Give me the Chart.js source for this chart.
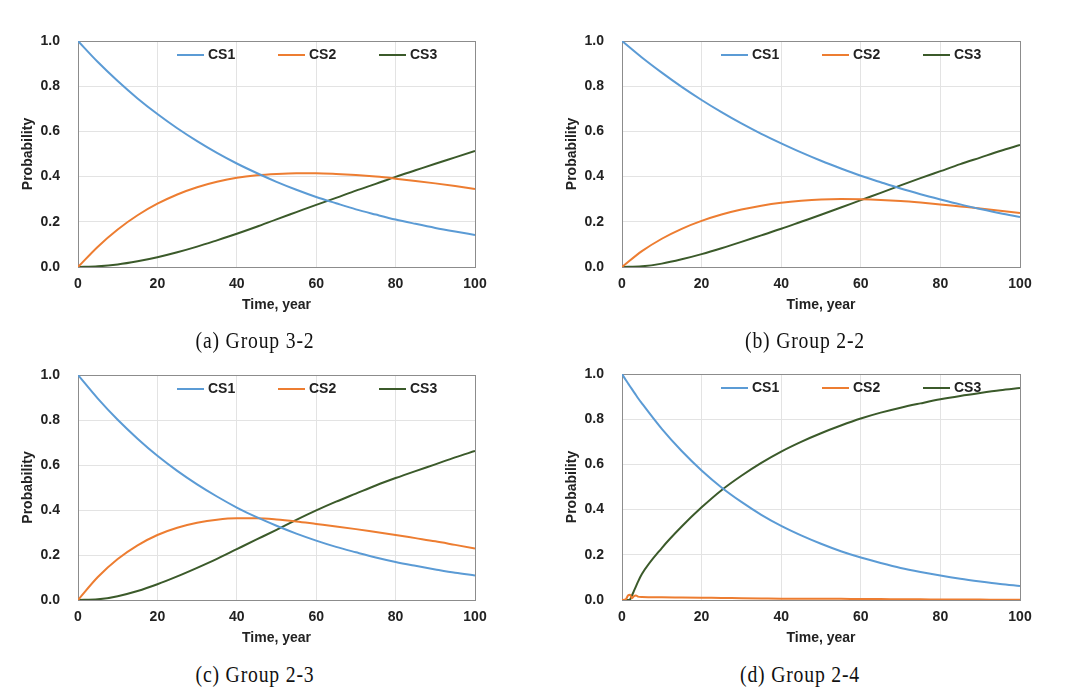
<!DOCTYPE html>
<html>
<head>
<meta charset="utf-8">
<script src="https://cdn.jsdelivr.net/npm/chart.js@4.4.1/dist/chart.umd.min.js"></script>
<style>
body{margin:0;background:#fff;width:1075px;height:698px;overflow:hidden;position:relative;}
canvas{position:absolute;}
.cap{position:absolute;font-family:"Liberation Serif","DejaVu Serif",serif;font-size:24px;color:#111;white-space:nowrap;transform:translate(-50%,-50%) scaleX(0.82);letter-spacing:1px;}
</style>
</head>
<body>
<canvas id="c1"></canvas>
<canvas id="c2"></canvas>
<canvas id="c3"></canvas>
<canvas id="c4"></canvas>
<div class="cap" style="left:255px;top:340px;">(a) Group 3-2</div>
<div class="cap" style="left:805px;top:340px;">(b) Group 2-2</div>
<div class="cap" style="left:255px;top:674px;">(c) Group 2-3</div>
<div class="cap" style="left:800px;top:674px;">(d) Group 2-4</div>
<script>
// time axis, years
var years = [0,5,10,15,20,25,30,35,40,45,50,55,60,65,70,75,80,85,90,95,100];
var yearsD = [0,1,1.5,2,2.5,3,3.5,4,5,10,15,20,25,30,35,40,45,50,55,60,65,70,75,80,85,90,95,100];

var xTicks = [0,20,40,60,80,100];
var yTicks = [0,0.2,0.4,0.6,0.8,1.0];
var seriesNames = ["CS1","CS2","CS3"];

// (a) Group 3-2
var cs1A = [1.000,0.907,0.823,0.746,0.677,0.614,0.557,0.505,0.458,0.416,0.377,0.342,0.310,0.282,0.255,0.232,0.210,0.191,0.173,0.157,0.142];
var cs2A = [0,0.090,0.166,0.229,0.280,0.321,0.353,0.377,0.395,0.406,0.412,0.415,0.415,0.412,0.407,0.400,0.391,0.381,0.370,0.358,0.345];
var cs3A = [0,0.003,0.011,0.025,0.043,0.065,0.090,0.118,0.147,0.178,0.211,0.243,0.275,0.306,0.338,0.368,0.399,0.428,0.457,0.485,0.513];

// (b) Group 2-2
var cs1B = [1.000,0.927,0.860,0.797,0.739,0.685,0.635,0.589,0.547,0.507,0.470,0.436,0.404,0.375,0.347,0.322,0.299,0.277,0.257,0.238,0.221];
var cs2B = [0,0.070,0.125,0.169,0.204,0.232,0.254,0.271,0.284,0.293,0.299,0.301,0.300,0.297,0.292,0.285,0.277,0.268,0.259,0.249,0.239];
var cs3B = [0,0.003,0.015,0.034,0.057,0.083,0.111,0.140,0.169,0.200,0.231,0.263,0.296,0.328,0.361,0.393,0.424,0.455,0.484,0.513,0.540];

// (c) Group 2-3
var cs1C = [1.000,0.895,0.801,0.717,0.641,0.574,0.514,0.460,0.411,0.368,0.330,0.295,0.264,0.236,0.212,0.189,0.169,0.152,0.136,0.121,0.109];
var cs2C = [0,0.102,0.182,0.243,0.289,0.321,0.343,0.357,0.363,0.363,0.358,0.349,0.338,0.327,0.315,0.302,0.289,0.275,0.261,0.245,0.229];
var cs3C = [0,0.003,0.017,0.040,0.070,0.105,0.143,0.183,0.226,0.269,0.312,0.356,0.398,0.437,0.473,0.509,0.542,0.573,0.603,0.634,0.662];

// (d) Group 2-4
var cs1D = [1.000,0.972,0.959,0.946,0.933,0.920,0.907,0.894,0.870,0.757,0.659,0.573,0.498,0.434,0.377,0.328,0.286,0.249,0.216,0.188,0.164,0.142,0.124,0.108,0.094,0.082,0.071,0.062];
var cs2D = [0,0.004,0.020,0.023,0.008,0.017,0.020,0.015,0.013,0.012,0.011,0.010,0.009,0.008,0.007,0.006,0.006,0.005,0.005,0.004,0.004,0.003,0.003,0.002,0.002,0.002,0.001,0.001];
var cs3D = [0,0,0,0.002,0.020,0.040,0.060,0.080,0.115,0.230,0.325,0.410,0.486,0.550,0.607,0.657,0.700,0.738,0.772,0.803,0.829,0.851,0.870,0.888,0.903,0.916,0.928,0.938];

var colors = ["#5b9bd5","#ed7d31","#3b5a2a"];
var frame = "#8c8c8c";
var gridClr = "#e3e3e3";
var tickClr = "#222222";

Chart.defaults.font.family = '"Liberation Sans", Arial, sans-serif';
Chart.defaults.font.size = 14;
Chart.defaults.font.weight = 'bold';
Chart.defaults.color = tickClr;

function toPoints(xs, ys) {
  var pts = [];
  for (var i = 0; i < xs.length; i++) {
    pts.push({x: xs[i], y: ys[i]});
  }
  return pts;
}

// legend drawn inside the plot area, like the Excel one
var insideLegend = {
  id: 'insideLegend',
  afterDatasetsDraw: function(chart) {
    var ctx = chart.ctx;
    var a = chart.chartArea;
    ctx.save();
    ctx.font = 'bold 14px "Liberation Sans", Arial, sans-serif';
    ctx.textBaseline = 'middle';
    ctx.textAlign = 'left';
    for (var i = 0; i < chart.data.datasets.length; i++) {
      var ds = chart.data.datasets[i];
      var x = a.left + 99 + i * 101;
      var y = a.top + 14;
      ctx.strokeStyle = ds.borderColor;
      ctx.lineWidth = 2;
      ctx.beginPath();
      ctx.moveTo(x, y);
      ctx.lineTo(x + 27, y);
      ctx.stroke();
      ctx.fillStyle = tickClr;
      ctx.fillText(ds.label, x + 31, y);
    }
    ctx.restore();
  }
};

function makePanel(id, area, xs, s1, s2, s3) {
  var cv = document.getElementById(id);
  var left = area[0] - 78;
  var top = area[2] - 41;
  var w = area[1] - left + 50;
  var h = area[3] - top + 58;
  cv.width = w; cv.height = h;
  cv.style.width = w + 'px'; cv.style.height = h + 'px';
  cv.style.left = left + 'px'; cv.style.top = top + 'px';

  var series = [s1, s2, s3];
  var datasets = [];
  for (var i = 0; i < 3; i++) {
    datasets.push({
      label: seriesNames[i],
      data: toPoints(xs, series[i]),
      borderColor: colors[i],
      backgroundColor: colors[i],
      borderWidth: 2,
      pointRadius: 0,
      cubicInterpolationMode: 'monotone',
      fill: false
    });
  }

  return new Chart(cv, {
    type: 'line',
    data: {datasets: datasets},
    plugins: [insideLegend],
    options: {
      responsive: false,
      animation: false,
      layout: {padding: {left: 0, top: 41, right: 50, bottom: 8}},
      plugins: {legend: {display: false}, tooltip: {enabled: false}},
      scales: {
        x: {
          type: 'linear', min: 0, max: 100,
          afterFit: function(s) { s.height = 50; },
          afterBuildTicks: function(s) { s.ticks = xTicks.map(function(v){ return {value: v}; }); },
          ticks: {padding: 9, color: tickClr},
          grid: {drawTicks: false, color: function(c) { return c.tick && c.tick.value === 100 ? frame : gridClr; }},
          border: {color: frame, width: 1},
          title: {display: true, text: 'Time, year', color: tickClr, padding: {top: 0, bottom: 3}}
        },
        y: {
          min: 0, max: 1,
          afterFit: function(s) { s.width = 78; },
          afterBuildTicks: function(s) { s.ticks = yTicks.map(function(v){ return {value: v}; }); },
          ticks: {padding: 18, color: tickClr, callback: function(v) { return Number(v).toFixed(1); }},
          grid: {drawTicks: false, color: function(c) { return c.tick && c.tick.value === 1 ? frame : gridClr; }},
          border: {color: frame, width: 1},
          title: {display: true, text: 'Probability', color: tickClr, padding: {top: 20, bottom: 0}}
        }
      }
    }
  });
}

makePanel('c1', [78, 475, 41, 267], years, cs1A, cs2A, cs3A);
makePanel('c2', [622, 1020, 41, 267], years, cs1B, cs2B, cs3B);
makePanel('c3', [78, 475, 375, 600], years, cs1C, cs2C, cs3C);
makePanel('c4', [622, 1020, 374, 600], yearsD, cs1D, cs2D, cs3D);
</script>
</body>
</html>
